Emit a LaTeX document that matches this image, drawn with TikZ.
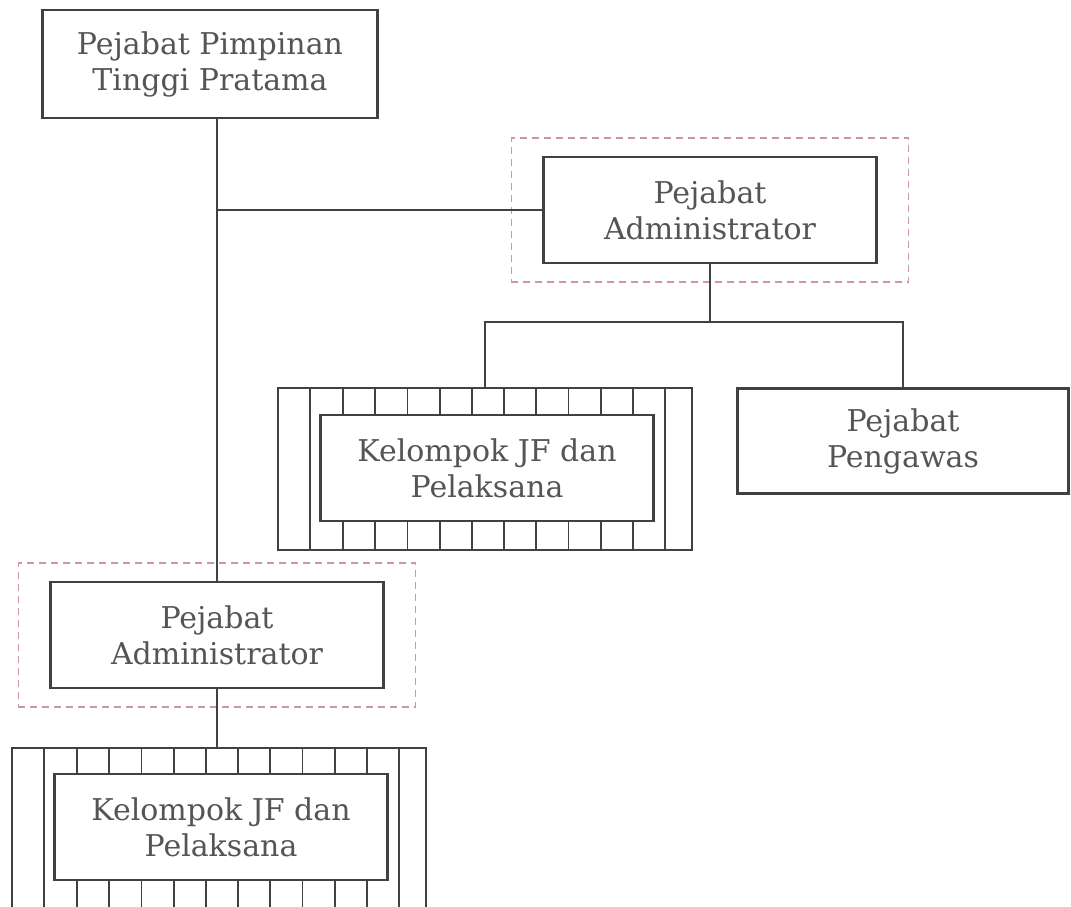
\documentclass[tikz,border=0pt]{standalone}
\usepackage{fontspec}
\setmainfont{DejaVu Serif}
\usetikzlibrary{positioning,fit}
\definecolor{lineColor}{RGB}{65,65,65}
\definecolor{textColor}{RGB}{85,85,85}
\definecolor{dashColor}{RGB}{205,150,165}

\begin{document}
\begin{tikzpicture}[x=1pt,y=-1pt,textColor]
	\tikzstyle{box} = [rectangle,draw=lineColor,line width=2.4pt,fill=white,align=center,minimum width=333,minimum height=106,inner sep=0pt,font=\fontsize{30}{36}\selectfont]
	\tikzstyle{jfbox} = [rectangle,draw=lineColor,line width=2.4pt,minimum width=414,minimum height=162,inner sep=0pt]
	\tikzstyle{dashbox} = [rectangle,draw=dashColor,line width=1.5pt,dash pattern=on 7pt off 5pt,inner xsep=31,inner ysep=18]
	\tikzstyle{link} = [draw=lineColor,line width=2.4pt]

	\clip (0,0) rectangle (1071,907);
	\fill[white] (0,0) rectangle (1071,907);

	  \node [box, minimum width=335, minimum height=108] (top) at (210,64) {Pejabat Pimpinan\\Tinggi Pratama};
	  \node [box] (adm1) at (710,210) {Pejabat\\Administrator};
	  \node [box, minimum width=331, minimum height=105] (peng) at (903,441) {Pejabat\\Pengawas};
	  \node [box] (adm2) at (217,635) {Pejabat\\Administrator};

	  \node [jfbox] (jfA) at (485,469) {};
	  \node [box] (jfA-in) at (487,468) {Kelompok JF dan\\Pelaksana};
	  \node [jfbox] (jfB) at (219,829) {};
	  \node [box] (jfB-in) at (221,827) {Kelompok JF dan\\Pelaksana};

	  % pembatas garis putus-putus
	  \node [dashbox, fit=(adm1)] (grpA) {};
	  \node [dashbox, fit=(adm2)] (grpB) {};

	  \coordinate (split) at (adm1.south |- 0,322);

		\draw [link] (adm2.north) -- (adm2.north |- top.south);
		\draw [link] (adm2.north |- adm1.west) -- (adm1.west);
		\draw [link] (adm1.south) -- (split);
		\draw [link] (jfA.north) -- (jfA.north |- split) -- (peng.north |- split) -- (peng.north);
		\draw [link] (adm2.south) -- (adm2.south |- jfB.north);

	  \foreach \g in {jfA,jfB} {
	    \draw [link] ([xshift=33]\g.north west) -- ([xshift=33]\g.south west);
	    \draw [link] ([xshift=-28]\g.north east) -- ([xshift=-28]\g.south east);
	    \foreach \i in {0,...,9} {
	      \draw [link,line width=1.8pt] ([xshift={(\i-4.5)*32.2+3}]\g.north) -- ([xshift={(\i-4.5)*32.2+3}]\g.north |- \g-in.north);
	      \draw [link,line width=1.8pt] ([xshift={(\i-4.5)*32.2+3}]\g.south) -- ([xshift={(\i-4.5)*32.2+3}]\g.south |- \g-in.south);
	    }
	  }
  \end{tikzpicture}
\end{document}
